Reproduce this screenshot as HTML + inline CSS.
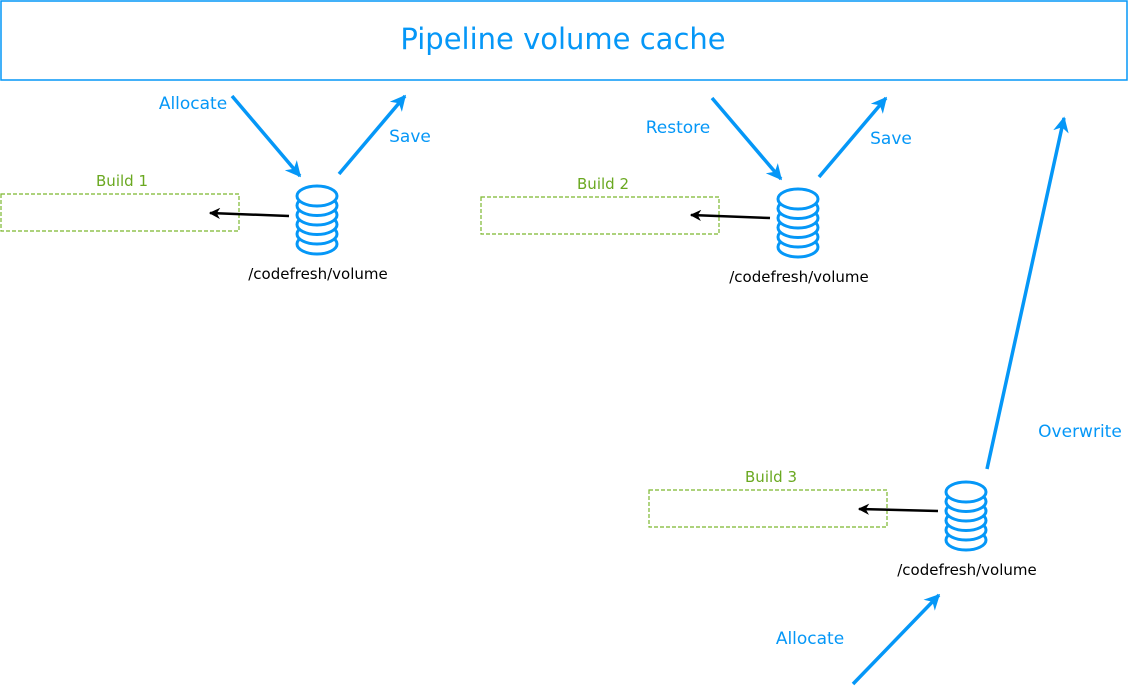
<!DOCTYPE html>
<html><head><meta charset="utf-8"><style>body{margin:0;background:#fff}svg{display:block}</style></head><body>
<svg width="1128" height="686" viewBox="0 0 1128 686" xmlns="http://www.w3.org/2000/svg" font-family="DejaVu Sans, Liberation Sans, sans-serif">
<defs>
<marker id="ab" viewBox="0 0 10 10" refX="9" refY="5" markerWidth="4.5" markerHeight="4.5" orient="auto"><path d="M0,0 L10,5 L0,10 L3,5z" fill="#0597f7"/></marker>
<marker id="ak" viewBox="0 0 10 10" refX="9" refY="5" markerWidth="4.5" markerHeight="4.5" orient="auto"><path d="M0,0 L10,5 L0,10 L3,5z" fill="#000"/></marker>
<g id="db" fill="#fff" stroke="#0597f7" stroke-width="3">
<ellipse cx="0" cy="246" rx="20" ry="10"/><ellipse cx="0" cy="236" rx="20" ry="10"/><ellipse cx="0" cy="226.5" rx="20" ry="10"/><ellipse cx="0" cy="217" rx="20" ry="10"/><ellipse cx="0" cy="207.5" rx="20" ry="10"/><ellipse cx="0" cy="198" rx="20" ry="10"/>
</g>
</defs>
<rect x="1" y="1" width="1126" height="79" fill="#fff" stroke="#0597f7" stroke-width="1.5"/>
<text x="563" y="49" font-size="29" fill="#0597f7" text-anchor="middle">Pipeline volume cache</text>
<g fill="none" stroke="#7cb82f" stroke-dasharray="4,2" stroke-width="1.2">
<rect x="1" y="194" width="238" height="37"/><rect x="481" y="197" width="238" height="37"/><rect x="649" y="490" width="238" height="37"/>
</g>
<g font-size="15" fill="#6aa820" text-anchor="middle">
<text x="122" y="186">Build 1</text><text x="603" y="189">Build 2</text><text x="771" y="482">Build 3</text>
</g>
<g stroke="#000" stroke-width="2.5" marker-end="url(#ak)">
<line x1="289" y1="216" x2="210" y2="213"/><line x1="770" y1="218" x2="691" y2="215"/><line x1="938" y1="511" x2="859" y2="509"/>
</g>
<use href="#db" x="317" y="-2"/><use href="#db" x="798" y="1"/><use href="#db" x="966" y="294"/>
<g font-size="15" fill="#000" text-anchor="middle">
<text x="318" y="279">/codefresh/volume</text><text x="799" y="282">/codefresh/volume</text><text x="967" y="575">/codefresh/volume</text>
</g>
<g stroke="#0597f7" stroke-width="3.5" marker-end="url(#ab)">
<line x1="232" y1="96" x2="300" y2="176"/><line x1="339" y1="174" x2="405" y2="96"/>
<line x1="712" y1="98" x2="781" y2="179"/><line x1="819" y1="177" x2="886" y2="98"/>
<line x1="987" y1="469" x2="1064" y2="118"/><line x1="853" y1="684" x2="939" y2="595"/>
</g>
<g font-size="17" fill="#0597f7" text-anchor="middle">
<text x="193" y="109">Allocate</text><text x="410" y="142">Save</text><text x="678" y="133">Restore</text><text x="891" y="144">Save</text><text x="1080" y="437">Overwrite</text><text x="810" y="644">Allocate</text>
</g>
</svg>
</body></html>
